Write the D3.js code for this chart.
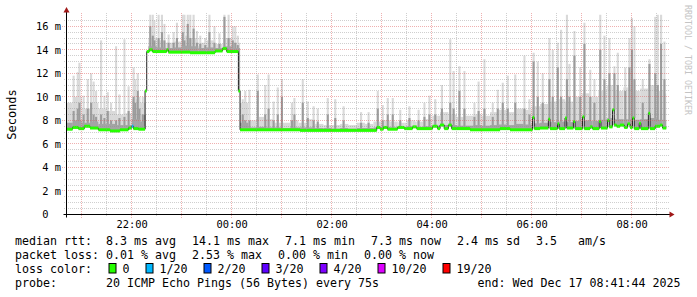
<!DOCTYPE html>
<html>
<head>
<meta charset="utf-8">
<script src="https://cdn.jsdelivr.net/npm/d3@7"></script>
<style>
body { margin: 0; background: #fff; }
text { font-family: "DejaVu Sans Mono", monospace; white-space: pre; }
</style>
</head>
<body>
<div id="canvas"></div>
<script>
"use strict"

/* Graph window */
let startTime = "2025-12-16 20:41:44";
let endTime = "2025-12-17 08:41:44";

/* Axis ticks */
let yTicks = [0, 2, 4, 6, 8, 10, 12, 14, 16];
let xTickLabels = ["22:00", "00:00", "02:00", "04:00", "06:00", "08:00"];

/* Median rtt (ms), step values, with lost pings out of 20 */
let medianTimes = ["20:41", "20:49", "20:56", "21:03", "21:10", "21:20", "21:34", "21:46", "21:56", "22:00",
    "22:02", "22:08", "22:16", "22:18", "22:21", "22:25", "22:42", "22:44", "23:10", "23:40",
    "23:49", "23:54", "00:08", "00:10", "01:22", "02:54", "02:58", "03:02", "03:07", "03:19",
    "03:27", "03:37", "03:42", "04:01", "04:07", "04:10", "04:15", "04:20", "04:24", "04:46",
    "05:22", "05:34", "06:01", "06:03", "06:10", "06:20", "06:22", "06:31", "06:33", "06:40",
    "06:42", "06:50", "06:52", "07:01", "07:03", "07:10", "07:13", "07:21", "07:23", "07:31",
    "07:33", "07:37", "07:39", "07:42", "07:46", "07:51", "07:55", "07:58", "08:01", "08:03",
    "08:09", "08:11", "08:20", "08:22", "08:28", "08:34", "08:37"];
let medianValues = [7.25, 7.4, 7.3, 7.5, 7.35, 7.2, 7.1, 7.2, 7.35, 7.5,
    7.3, 7.25, 10.5, 13.85, 14.0, 13.85, 14.0, 13.8, 13.75, 13.9,
    14.1, 13.85, 10.5, 7.2, 7.15, 7.4, 7.25, 7.4, 7.25, 7.4,
    7.3, 7.45, 7.3, 7.5, 7.3, 7.6, 7.3, 7.6, 7.3, 7.2,
    7.3, 7.2, 8.25, 7.3, 7.35, 8.1, 7.3, 7.7, 7.3, 8.2,
    7.35, 7.9, 7.3, 8.3, 7.3, 7.45, 7.3, 7.9, 7.35, 8.0,
    7.45, 8.9, 7.6, 7.5, 7.6, 7.4, 7.7, 7.4, 8.2, 7.3,
    7.75, 7.3, 8.6, 7.3, 7.5, 7.6, 7.35];
let medianLoss = [0, 0, 0, 0, 0, 0, 0, 0, 0, 1,
    0, 0, 0, 0, 0, 0, 0, 0, 0, 0,
    0, 0, 0, 0, 0, 0, 0, 0, 0, 0,
    0, 0, 0, 0, 0, 0, 0, 0, 0, 0,
    0, 0, 0, 0, 0, 0, 0, 0, 0, 0,
    0, 0, 0, 0, 0, 0, 0, 0, 0, 0,
    0, 0, 0, 0, 0, 0, 0, 0, 0, 0,
    0, 0, 0, 0, 0, 0, 0];

/* Smoke haze in 10 minute bins from 20:40: top of light and dark smoke (ms) */
let hazeStart = "20:40";
let hazeLight = [9.5, 10.0, 9.0, 9.5, 9.0, 8.8, 8.5, 8.6, 9.8, 9.5,
    15.0, 14.8, 14.6, 14.7, 15.2, 15.0, 14.6, 14.8, 14.5, 15.0, 14.6,
    9.5, 8.0, 8.3, 8.1, 7.8,
    7.8, 8.0, 7.8, 8.1, 7.7, 7.6,
    7.6, 7.7, 7.6, 7.8, 7.7, 7.9,
    8.0, 7.9, 7.8, 8.0, 7.9, 8.1,
    8.4, 8.7, 8.5, 8.3, 8.4, 8.5,
    8.4, 8.7, 8.9, 8.7, 9.0, 8.9,
    9.2, 9.4, 9.6, 9.8, 9.6, 10.0,
    10.3, 10.0, 10.5, 11.0, 10.5, 10.8,
    10.5, 10.7, 11.0, 10.5, 10.3];
let hazeDark = [7.8, 8.0, 7.8, 7.9, 7.7, 7.7, 7.6, 7.6, 8.1, 7.9,
    14.3, 14.2, 14.15, 14.2, 14.35, 14.3, 14.15, 14.2, 14.15, 14.3, 14.15,
    7.8, 7.4, 7.45, 7.4, 7.4,
    7.35, 7.4, 7.4, 7.4, 7.35, 7.35,
    7.3, 7.35, 7.3, 7.35, 7.35, 7.4,
    7.45, 7.4, 7.45, 7.5, 7.45, 7.5,
    7.55, 7.6, 7.6, 7.55, 7.55, 7.6,
    7.55, 7.6, 7.65, 7.6, 7.7, 7.65,
    7.75, 7.8, 7.85, 7.9, 7.85, 7.95,
    8.0, 7.95, 8.05, 8.2, 8.1, 8.1,
    8.05, 8.1, 8.2, 8.05, 8.0];

/* Smoke spikes: highest ping and top of the denser grey (ms) */
let spikeTimes = ["20:49", "20:54", "20:56", "21:01", "21:06", "21:10", "21:13", "21:16", "21:22", "21:26",
    "21:30", "21:34", "21:40", "21:44", "21:50", "21:55", "22:01", "22:03", "22:06", "22:08",
    "22:12", "22:14",
    "22:21", "22:24", "22:26", "22:31", "22:35", "22:38", "22:43", "22:49", "22:53", "23:00",
    "23:02", "23:06", "23:09", "23:13", "23:17", "23:21", "23:27", "23:32", "23:38", "23:44",
    "23:50", "23:55", "00:00", "00:03", "00:06",
    "00:12", "00:15", "00:20", "00:30", "00:39", "00:43", "00:49", "00:54", "00:59", "01:11",
    "01:14", "01:24", "01:30", "01:37", "01:42", "01:54", "02:03", "02:13", "02:34", "02:43",
    "02:54", "03:00", "03:06", "03:12", "03:21", "03:32", "03:43", "03:50", "03:56", "04:03",
    "04:11", "04:21", "04:25", "04:32", "04:38", "04:50", "04:55", "05:02", "05:12", "05:18",
    "05:24", "05:30", "05:39", "05:50", "05:56", "06:01", "06:06", "06:12", "06:20", "06:24",
    "06:30", "06:34", "06:41", "06:44", "06:50", "06:57", "07:02", "07:09", "07:14", "07:21",
    "07:26", "07:32", "07:38", "07:42", "07:51", "07:56", "07:59", "08:02", "08:12", "08:20",
    "08:27", "08:30", "08:34", "08:38"];
let spikeTops = [11.8, 12.1, 12.9, 10.1, 11.5, 12.0, 11.3, 10.5, 14.8, 10.1,
    10.4, 9.5, 14.3, 10.2, 14.9, 10.9, 12.5, 11.5, 12.0, 10.0,
    10.0, 9.5,
    17, 17, 16.5, 17, 17, 16.2, 15.3, 15.5, 16.3, 17,
    17, 17, 17, 17, 15.6, 15.2, 15.0, 17, 16.0, 15.4,
    17, 17, 16.0, 16.0, 15.2,
    9.8, 10.5, 10.6, 11.9, 11.0, 11.9, 9.6, 10.8, 11.5, 9.5,
    9.9, 11.5, 9.6, 9.2, 9.0, 9.9, 9.8, 9.2, 8.7, 8.7,
    10.5, 9.3, 9.9, 9.9, 8.9, 9.2, 8.9, 9.5, 10.1, 9.8,
    11.0, 14.9, 12.2, 12.6, 12.2, 9.5, 11.3, 13.2, 9.5, 10.6,
    11.2, 11.8, 11.9, 13.5, 9.8, 13.75, 13.0, 12.0, 15.0, 14.0,
    14.6, 15.7, 17, 12.8, 15.6, 12.5, 16.3, 12.3, 11.5, 17,
    15.2, 15.0, 12.6, 13.75, 12.5, 15.0, 16.7, 16.0, 11.5, 13.2,
    16.8, 17, 17, 14.7];
let spikeMids = [8.8, 9.0, 9.5, 8.5, 9.0, 9.5, 8.5, 8.3, 8.5, 8.2,
    8.8, 8.0, 8.0, 8.2, 8.3, 8.8, 10.0, 9.5, 10.5, 9.0,
    8.5, 8.5,
    16.0, 15.2, 14.8, 15.0, 15.5, 14.8, 14.6, 14.6, 15.0, 15.5,
    14.8, 16.2, 15.0, 15.8, 14.6, 14.5, 14.4, 15.5, 14.6, 14.5,
    16.8, 15.0, 14.8, 14.6, 14.4,
    8.5, 8.0, 8.0, 10.5, 8.5, 9.0, 8.0, 8.5, 10.0, 8.0,
    8.5, 9.5, 8.2, 8.0, 7.9, 8.5, 8.2, 8.0, 7.8, 7.8,
    9.0, 8.0, 8.5, 8.5, 8.0, 8.2, 8.0, 8.3, 8.5, 8.5,
    9.0, 9.5, 9.0, 10.5, 9.0, 8.3, 8.8, 9.0, 8.3, 9.0,
    9.5, 9.0, 9.5, 9.0, 8.5, 13.0, 10.0, 9.5, 11.5, 10.0,
    12.5, 10.0, 11.5, 10.0, 13.5, 10.0, 14.5, 10.0, 9.5, 14.0,
    11.5, 12.0, 12.0, 11.0, 10.5, 12.5, 14.0, 11.5, 9.5, 12.8,
    12.0, 11.0, 14.5, 11.5];

/* Legend */
let lossSteps = [0, 1, 2, 3, 4, 10, 19];
let lossLabels = ["0", "1/20", "2/20", "3/20", "4/20", "10/20", "19/20"];
let lossColors = ["#26ff00", "#00b8ff", "#0059ff", "#5e00ff", "#7e00ff", "#dd00ff", "#ff0000"];
let rttStats = ["8.3 ms avg", "14.1 ms max", "7.1 ms min", "7.3 ms now", "2.4 ms sd", "3.5   am/s"];
let lossStats = ["0.01 % avg", "2.53 % max", "0.00 % min", "0.00 % now"];
let probeText = "20 ICMP Echo Pings (56 Bytes) every 75s";
let endText = "end: Wed Dec 17 08:41:44 2025";

/* Configuration variables: drawing */
let svgWidth = 697;
let svgHeight = 297;
let plotLeft = 66.5, plotRight = 666.5, plotTop = 14.5, plotBottom = 214.5;
let fontSize = 11.63;

let parseFull = d3.timeParse("%Y-%m-%d %H:%M:%S");
let t0 = parseFull(startTime);
let t1 = parseFull(endTime);

// clock times >= 20:00 are on the first day, the rest on the next morning
function clock(s) {
    let hm = s.split(":").map(Number);
    return new Date(2025, 11, hm[0] >= 20 ? 16 : 17, hm[0], hm[1]);
}

let svg = d3.select("#canvas")
    .append("svg")
    .attr("width", svgWidth)
    .attr("height", svgHeight);

svg.append("rect")
    .attr("width", svgWidth)
    .attr("height", svgHeight)
    .attr("fill", "#ffffff");

let x = d3.scaleTime().domain([t0, t1]).range([plotLeft, plotRight]);
let y = d3.scaleLinear().domain([0, 17]).range([plotBottom, plotTop]);

svg.append("clipPath").attr("id", "plot")
    .append("rect")
    .attr("x", plotLeft)
    .attr("y", plotTop)
    .attr("width", plotRight - plotLeft)
    .attr("height", plotBottom - plotTop);

let plot = svg.append("g").attr("clip-path", "url(#plot)");

let medDates = medianTimes.map(clock);
let bisect = d3.bisector(d => d).right;
function medianIndex(t) {
    return Math.max(0, bisect(medDates, t) - 1);
}
function lossColor(loss) {
    let k = 0;
    lossSteps.forEach((s, i) => { if (loss >= s) k = i; });
    return lossColors[k];
}

/* Haze: split bins at median steps so the smoke starts at the median */
let hazeT0 = clock(hazeStart);
let binMs = 10 * 60 * 1000;
let breaks = medDates.concat(d3.timeMinute.every(10).range(hazeT0, t1), [t0, t1])
    .filter(d => d >= t0 && d <= t1)
    .sort((a, b) => a - b);
let hazeCells = [];
for (let i = 0; i < breaks.length - 1; i++) {
    let a = breaks[i], b = breaks[i + 1];
    if (b - a <= 0) continue;
    let bin = Math.floor((a - hazeT0) / binMs);
    hazeCells.push({a: a, b: b, base: medianValues[medianIndex(a)],
        light: hazeLight[bin], dark: hazeDark[bin]});
}

let lightGrey = "#d9d9d9", midGrey = "#9c9c9c", darkGrey = "#a4a4a4";

function smokeRects(data, topKey, color) {
    plot.append("g")
        .selectAll("rect")
        .data(data.filter(d => d[topKey] > d.base))
        .join("rect")
        .attr("x", d => x(d.a))
        .attr("width", d => x(d.b) - x(d.a))
        .attr("y", d => y(d[topKey]))
        .attr("height", d => y(d.base) - y(d[topKey]))
        .attr("fill", color);
}

// each spike spans about two ping rounds
let spikes = spikeTimes.map((s, i) => {
    let a = clock(s);
    return {a: a, b: new Date(+a + 150000), base: medianValues[medianIndex(a)],
        light: spikeTops[i], mid: spikeMids[i]};
});

smokeRects(hazeCells, "light", lightGrey);
smokeRects(spikes, "light", lightGrey);
smokeRects(spikes, "mid", midGrey);
smokeRects(hazeCells, "dark", darkGrey);

/* Median: thin dark step line with loss coloured bars on it */
let medPoints = medDates.map((d, i) => [d, medianValues[i]]);
medPoints.push([t1, medianValues[medianValues.length - 1]]);

plot.append("path")
    .attr("d", d3.line().x(d => x(d[0])).y(d => y(d[1])).curve(d3.curveStepAfter)(medPoints))
    .attr("fill", "none")
    .attr("stroke", "#202020")
    .attr("stroke-width", 1);

plot.append("g")
    .selectAll("rect")
    .data(medPoints.slice(0, -1))
    .join("rect")
    .attr("x", (d, i) => x(d[0]))
    .attr("width", (d, i) => x(medPoints[i + 1][0]) - x(d[0]))
    .attr("y", d => y(d[1]) - 1.5)
    .attr("height", 3)
    .attr("fill", (d, i) => lossColor(medianLoss[i]));

/* Grid, dotted, drawn over the data; dash ends sit on whole pixels */
let grid = svg.append("g");
let crisp = v => Math.round(v - 0.5) + 0.5;
let minorColor = "rgba(140,140,140,0.42)";
let majorColor = "rgba(220,80,80,0.45)";

function gridLine(x1, x2, y1, y2, color) {
    grid.append("line")
        .attr("x1", x1).attr("x2", x2)
        .attr("y1", y1).attr("y2", y2)
        .attr("stroke", color)
        .attr("stroke-width", 1)
        .attr("stroke-dasharray", "1,1");
}

d3.range(0.5, 17, 0.5).filter(v => v % 2 !== 0).forEach(v => {
    gridLine(64, 669, crisp(y(v)), crisp(y(v)), minorColor);
});
yTicks.filter(v => v > 0).forEach(v => {
    gridLine(62, 669, crisp(y(v)), crisp(y(v)), majorColor);
});
d3.timeMinute.every(30).range(t0, t1).filter(d => d.getMinutes() === 30).forEach(d => {
    gridLine(crisp(x(d)), crisp(x(d)), 13, 217, minorColor);
});
d3.timeHour.every(1).range(t0, t1).forEach(d => {
    gridLine(crisp(x(d)), crisp(x(d)), 13, 218, majorColor);
});

/* Axes */
let yAxis = svg.append("g")
    .attr("transform", "translate(" + plotLeft + ",0)")
    .call(d3.axisLeft(y).tickValues(yTicks).tickSize(0).tickPadding(5.5)
        .tickFormat(d => d === 0 ? "0  " : d + " m"));
let xAxis = svg.append("g")
    .attr("transform", "translate(0," + plotBottom + ")")
    .call(d3.axisBottom(x).tickValues(xTickLabels.map(clock)).tickSize(0).tickPadding(6.5)
        .tickFormat(d3.timeFormat("%H:%M")));
[xAxis, yAxis].forEach(g => {
    g.select(".domain").remove();
    g.selectAll("text")
        .attr("xml:space", "preserve")
        .attr("fill", "#000")
        .style("font-family", "'DejaVu Sans Mono', monospace")
        .style("font-size", "10.4px");
});

svg.append("line")
    .attr("x1", plotLeft - 3).attr("x2", plotRight + 4)
    .attr("y1", plotBottom).attr("y2", plotBottom)
    .attr("stroke", "#000");
svg.append("line")
    .attr("x1", plotLeft).attr("x2", plotLeft)
    .attr("y1", plotBottom + 3).attr("y2", 9)
    .attr("stroke", "#000");
svg.append("path")
    .attr("d", "M" + (plotRight + 3) + "," + (plotBottom - 3) + "L" + (plotRight + 8) + "," + plotBottom +
        "L" + (plotRight + 3) + "," + (plotBottom + 3) + "Z")
    .attr("fill", "#a01818");
svg.append("path")
    .attr("d", "M" + (plotLeft - 3) + ",12.5L" + plotLeft + ",7L" + (plotLeft + 3) + ",12.5Z")
    .attr("fill", "#a01818");

/* Unit label and watermark */
svg.append("text")
    .attr("transform", "translate(15.5," + ((plotTop + plotBottom) / 2) + ") rotate(-90)")
    .attr("text-anchor", "middle")
    .style("font-size", "12px")
    .text("Seconds");

svg.append("text")
    .attr("transform", "translate(684.5,5) rotate(90)")
    .style("font-size", "8.3px")
    .attr("fill", "#c4c4c4")
    .text("RRDTOOL / TOBI OETIKER");

/* Legend */
let lineY = [244.8, 258.9, 273, 287.1];
let legend = svg.append("g").style("font-size", fontSize + "px").attr("fill", "#000");

function statLine(row, title, items) {
    legend.append("text").attr("x", 15).attr("y", lineY[row]).text(title);
    let lx = 106;
    items.forEach(s => {
        let t = legend.append("text").attr("x", lx).attr("y", lineY[row]).text(s);
        lx += t.node().getComputedTextLength() + 16;
    });
}
statLine(0, "median rtt:", rttStats);
statLine(1, "packet loss:", lossStats);

legend.append("text").attr("x", 15).attr("y", lineY[2]).text("loss color:");
let bx = 109;
lossLabels.forEach((label, i) => {
    legend.append("rect")
        .attr("x", bx).attr("y", 263.5)
        .attr("width", 7).attr("height", 9.5)
        .attr("fill", lossColors[i])
        .attr("stroke", "#000");
    let t = legend.append("text").attr("x", bx + 13.4).attr("y", lineY[2]).text(label);
    bx += 13.4 + t.node().getComputedTextLength() + 16.6;
});

legend.append("text").attr("x", 15).attr("y", lineY[3]).text("probe:");
legend.append("text").attr("x", 106).attr("y", lineY[3]).text(probeText);
legend.append("text").attr("x", 477.5).attr("y", lineY[3]).text(endText);
</script>
</body>
</html>
